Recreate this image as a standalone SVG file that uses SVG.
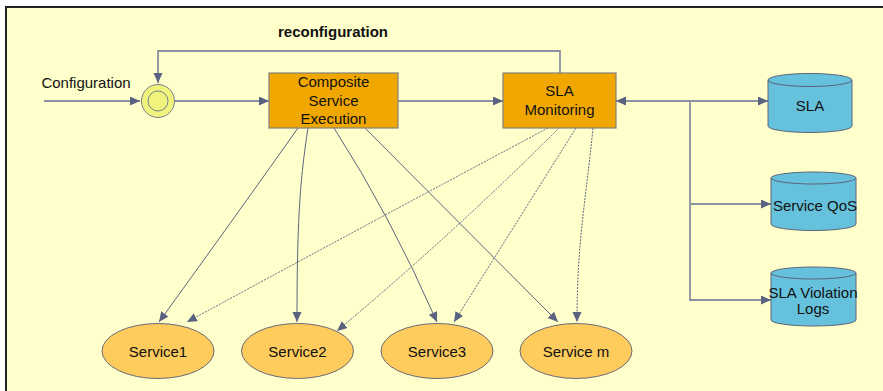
<svg xmlns="http://www.w3.org/2000/svg" width="883" height="391" viewBox="0 0 883 391">
<defs>
<style>
text{font-family:"Liberation Sans",Arial,sans-serif;font-size:15px;fill:#111;text-anchor:middle}
.main{fill:none;stroke:#8A92A2;stroke-width:1.8}
.svc{fill:none;stroke:#5C6480;stroke-width:1}
.dot{fill:none;stroke:#5C6480;stroke-width:1;stroke-dasharray:2,1.2}
.box{fill:#F0A800;stroke:#808080;stroke-width:1.2}
.cyl{fill:#66C2DC;stroke:#5C6478;stroke-width:1}
.svcn{fill:#FECC5C;stroke:#6A6A7A;stroke-width:1}
</style>
<marker id="ah" markerUnits="userSpaceOnUse" markerWidth="11" markerHeight="10" refX="10" refY="4.5" orient="auto">
<path d="M0,0 L10,4.5 L0,9 z" fill="#5A6280"/>
</marker>
<marker id="ahs" markerUnits="userSpaceOnUse" markerWidth="11" markerHeight="10" refX="10" refY="4.5" orient="auto-start-reverse">
<path d="M0,0 L10,4.5 L0,9 z" fill="#5A6280"/>
</marker>
</defs>
<rect x="0" y="0" width="883" height="391" fill="#FFFFFF"/>
<rect x="6" y="7" width="900" height="400" fill="#FFFFCC" stroke="#222" stroke-width="2"/>
<text x="333" y="37" style="font-weight:bold">reconfiguration</text>
<text x="86" y="88">Configuration</text>
<g id="connectors">
<path class="main" d="M44,101 L140,101" marker-end="url(#ah)"/>
<path class="main" d="M560,73 L560,51 L158,51 L158,83" marker-end="url(#ah)"/>
<path class="main" d="M175,101 L269,101" marker-end="url(#ah)"/>
<path class="main" d="M398,101 L503,101" marker-end="url(#ah)"/>
<path class="main" d="M616,101 L768,101" marker-start="url(#ahs)" marker-end="url(#ah)"/>
<path class="main" d="M690,101 L690,300 L771,300" marker-end="url(#ah)"/>
<path class="main" d="M690,204 L771,204" marker-end="url(#ah)"/>
<path class="svc" d="M298,128 Q240,210 159,322" marker-end="url(#ah)"/>
<path class="svc" d="M308,128 C300,180 297,220 297,322" marker-end="url(#ah)"/>
<path class="svc" d="M334,128 Q390,215 437,322" marker-end="url(#ah)"/>
<path class="svc" d="M354,117 L558,322" marker-end="url(#ah)"/>
<path class="dot" d="M548,128 Q360,228 187,322" marker-end="url(#ah)"/>
<path class="dot" d="M559,128 Q455,232 337,331" marker-end="url(#ah)"/>
<path class="dot" d="M576,128 L454,322" marker-end="url(#ah)"/>
<path class="dot" d="M593,128 C586,200 577,240 577,322" marker-end="url(#ah)"/>
</g>
<g id="start">
<circle cx="158" cy="101" r="16.5" fill="#F0F47C" stroke="#7A7E92" stroke-width="1"/>
<circle cx="158" cy="101" r="10" fill="#F0F47C" stroke="#7A7E92" stroke-width="1"/>
</g>
<g id="composite">
<rect class="box" x="269" y="73" width="129" height="55"/>
<text x="333.5" y="87">Composite</text>
<text x="333.5" y="106">Service</text>
<text x="333.5" y="124">Execution</text>
</g>
<g id="slamon">
<rect class="box" x="503" y="73" width="113" height="55"/>
<text x="559.5" y="96">SLA</text>
<text x="559.5" y="115">Monitoring</text>
</g>
<g id="sla">
<path class="cyl" d="M768,80 A42,6.5 0 0 1 852,80 L852,126 A42,6.5 0 0 1 768,126 Z"/>
<path class="cyl" fill="none" d="M768,80 A42,6.5 0 0 0 852,80" style="fill:none"/>
<text x="810" y="111">SLA</text>
</g>
<g id="qos">
<path class="cyl" d="M771,178 A42.5,6 0 0 1 856,178 L856,224 A42.5,6.5 0 0 1 771,224 Z"/>
<path class="cyl" d="M771,178 A42.5,6 0 0 0 856,178" style="fill:none"/>
<text x="815" y="210.5">Service QoS</text>
</g>
<g id="violation">
<path class="cyl" d="M771,273 A42.5,6 0 0 1 856,273 L856,320 A42.5,6 0 0 1 771,320 Z"/>
<path class="cyl" d="M771,273 A42.5,6 0 0 0 856,273" style="fill:none"/>
<text x="813" y="298">SLA Violation</text>
<text x="813" y="314">Logs</text>
</g>
<g id="service1">
<ellipse class="svcn" cx="158" cy="351" rx="56" ry="27.5"/>
<text x="158" y="356.5">Service1</text>
</g>
<g id="service2">
<ellipse class="svcn" cx="297.5" cy="351" rx="56" ry="27.5"/>
<text x="297.5" y="356.5">Service2</text>
</g>
<g id="service3">
<ellipse class="svcn" cx="437" cy="351" rx="56" ry="27.5"/>
<text x="437" y="356.5">Service3</text>
</g>
<g id="servicem">
<ellipse class="svcn" cx="576" cy="351" rx="56" ry="27.5"/>
<text x="576" y="356.5">Service m</text>
</g>
</svg>
